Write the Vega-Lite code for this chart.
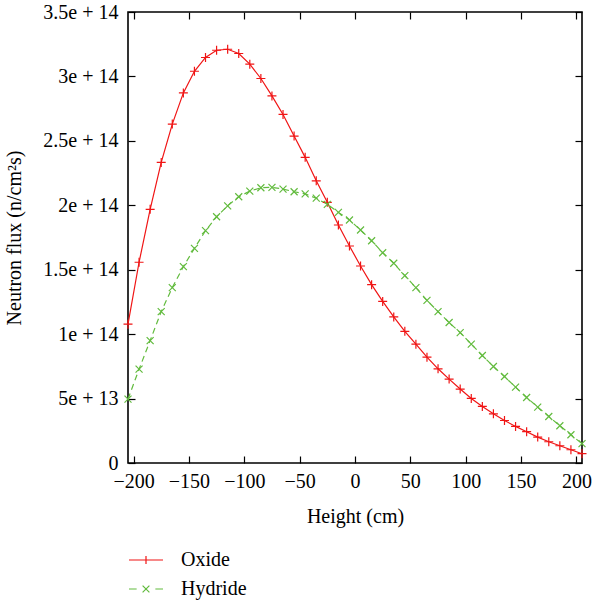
{
  "$schema": "https://vega.github.io/schema/vega-lite/v6.json",
  "width": 454,
  "height": 451,
  "autosize": {"type": "none"},
  "padding": {"left": 128, "top": 12, "right": 10, "bottom": 143},
  "background": "white",
  "config": {
    "view": {"stroke": "black", "strokeWidth": 1.6},
    "font": "Liberation Serif",
    "axis": {
      "labelFont": "Liberation Serif",
      "titleFont": "Liberation Serif",
      "labelFontSize": 20,
      "titleFontSize": 20,
      "titleFontWeight": "normal",
      "labelColor": "black",
      "titleColor": "black",
      "tickColor": "black",
      "tickWidth": 1.2,
      "tickSize": -7,
      "domain": false,
      "grid": false
    },
    "legend": {
      "labelFont": "Liberation Serif",
      "labelFontSize": 20,
      "labelColor": "black"
    }
  },
  "data": {
    "values": [
      {"h": -205, "series": "Oxide", "flux": 1.077e14},
      {"h": -195, "series": "Oxide", "flux": 1.558e14},
      {"h": -185, "series": "Oxide", "flux": 1.969e14},
      {"h": -175, "series": "Oxide", "flux": 2.333e14},
      {"h": -165, "series": "Oxide", "flux": 2.630e14},
      {"h": -155, "series": "Oxide", "flux": 2.872e14},
      {"h": -145, "series": "Oxide", "flux": 3.040e14},
      {"h": -135, "series": "Oxide", "flux": 3.147e14},
      {"h": -125, "series": "Oxide", "flux": 3.203e14},
      {"h": -115, "series": "Oxide", "flux": 3.211e14},
      {"h": -105, "series": "Oxide", "flux": 3.178e14},
      {"h": -95, "series": "Oxide", "flux": 3.095e14},
      {"h": -85, "series": "Oxide", "flux": 2.984e14},
      {"h": -75, "series": "Oxide", "flux": 2.849e14},
      {"h": -65, "series": "Oxide", "flux": 2.705e14},
      {"h": -55, "series": "Oxide", "flux": 2.537e14},
      {"h": -45, "series": "Oxide", "flux": 2.372e14},
      {"h": -35, "series": "Oxide", "flux": 2.190e14},
      {"h": -25, "series": "Oxide", "flux": 2.023e14},
      {"h": -15, "series": "Oxide", "flux": 1.847e14},
      {"h": -5, "series": "Oxide", "flux": 1.684e14},
      {"h": 5, "series": "Oxide", "flux": 1.529e14},
      {"h": 15, "series": "Oxide", "flux": 1.384e14},
      {"h": 25, "series": "Oxide", "flux": 1.254e14},
      {"h": 35, "series": "Oxide", "flux": 1.134e14},
      {"h": 45, "series": "Oxide", "flux": 1.022e14},
      {"h": 55, "series": "Oxide", "flux": 0.922e14},
      {"h": 65, "series": "Oxide", "flux": 0.821e14},
      {"h": 75, "series": "Oxide", "flux": 0.731e14},
      {"h": 85, "series": "Oxide", "flux": 0.651e14},
      {"h": 95, "series": "Oxide", "flux": 0.574e14},
      {"h": 105, "series": "Oxide", "flux": 0.501e14},
      {"h": 115, "series": "Oxide", "flux": 0.439e14},
      {"h": 125, "series": "Oxide", "flux": 0.382e14},
      {"h": 135, "series": "Oxide", "flux": 0.330e14},
      {"h": 145, "series": "Oxide", "flux": 0.284e14},
      {"h": 155, "series": "Oxide", "flux": 0.243e14},
      {"h": 165, "series": "Oxide", "flux": 0.201e14},
      {"h": 175, "series": "Oxide", "flux": 0.165e14},
      {"h": 185, "series": "Oxide", "flux": 0.134e14},
      {"h": 195, "series": "Oxide", "flux": 0.103e14},
      {"h": 205, "series": "Oxide", "flux": 0.072e14},
      {"h": -205, "series": "Hydride", "flux": 0.496e14},
      {"h": -195, "series": "Hydride", "flux": 0.728e14},
      {"h": -185, "series": "Hydride", "flux": 0.950e14},
      {"h": -175, "series": "Hydride", "flux": 1.175e14},
      {"h": -165, "series": "Hydride", "flux": 1.361e14},
      {"h": -155, "series": "Hydride", "flux": 1.524e14},
      {"h": -145, "series": "Hydride", "flux": 1.666e14},
      {"h": -135, "series": "Hydride", "flux": 1.803e14},
      {"h": -125, "series": "Hydride", "flux": 1.911e14},
      {"h": -115, "series": "Hydride", "flux": 1.996e14},
      {"h": -105, "series": "Hydride", "flux": 2.066e14},
      {"h": -95, "series": "Hydride", "flux": 2.110e14},
      {"h": -85, "series": "Hydride", "flux": 2.136e14},
      {"h": -75, "series": "Hydride", "flux": 2.139e14},
      {"h": -65, "series": "Hydride", "flux": 2.126e14},
      {"h": -55, "series": "Hydride", "flux": 2.105e14},
      {"h": -45, "series": "Hydride", "flux": 2.088e14},
      {"h": -35, "series": "Hydride", "flux": 2.055e14},
      {"h": -25, "series": "Hydride", "flux": 2.007e14},
      {"h": -15, "series": "Hydride", "flux": 1.945e14},
      {"h": -5, "series": "Hydride", "flux": 1.886e14},
      {"h": 5, "series": "Hydride", "flux": 1.808e14},
      {"h": 15, "series": "Hydride", "flux": 1.725e14},
      {"h": 25, "series": "Hydride", "flux": 1.632e14},
      {"h": 35, "series": "Hydride", "flux": 1.550e14},
      {"h": 45, "series": "Hydride", "flux": 1.454e14},
      {"h": 55, "series": "Hydride", "flux": 1.361e14},
      {"h": 65, "series": "Hydride", "flux": 1.262e14},
      {"h": 75, "series": "Hydride", "flux": 1.175e14},
      {"h": 85, "series": "Hydride", "flux": 1.090e14},
      {"h": 95, "series": "Hydride", "flux": 1.012e14},
      {"h": 105, "series": "Hydride", "flux": 0.922e14},
      {"h": 115, "series": "Hydride", "flux": 0.834e14},
      {"h": 125, "series": "Hydride", "flux": 0.749e14},
      {"h": 135, "series": "Hydride", "flux": 0.671e14},
      {"h": 145, "series": "Hydride", "flux": 0.589e14},
      {"h": 155, "series": "Hydride", "flux": 0.508e14},
      {"h": 165, "series": "Hydride", "flux": 0.434e14},
      {"h": 175, "series": "Hydride", "flux": 0.361e14},
      {"h": 185, "series": "Hydride", "flux": 0.289e14},
      {"h": 195, "series": "Hydride", "flux": 0.219e14},
      {"h": 205, "series": "Hydride", "flux": 0.150e14}
    ]
  },
  "layer": [
    {
      "mark": {"type": "line", "strokeWidth": 1.2},
      "transform": [{"filter": "datum.series == 'Oxide'"}],
      "encoding": {
        "x": {
          "field": "h", "type": "quantitative",
          "scale": {"domain": [-205, 205], "nice": false, "zero": false},
          "axis": {
            "orient": "bottom",
            "values": [-200, -150, -100, -50, 0, 50, 100, 150, 200],
            "title": "Height (cm)",
            "labelPadding": 15,
            "titlePadding": 15
          }
        },
        "y": {
          "field": "flux", "type": "quantitative",
          "scale": {"domain": [0, 3.5e14], "nice": false},
          "axis": {
            "orient": "left",
            "values": [0, 5e13, 1e14, 1.5e14, 2e14, 2.5e14, 3e14, 3.5e14],
            "labelExpr": "datum.value == 0 ? '0' : (datum.value < 1e14 ? (datum.value / 1e13) + 'e + 13' : (datum.value / 1e14) + 'e + 14')",
            "title": "Neutron flux (n/cm²s)",
            "labelPadding": 17,
            "titlePadding": 18
          }
        },
        "color": {
          "field": "series", "type": "nominal",
          "scale": {"domain": ["Oxide", "Hydride"], "range": ["#f01515", "#62bb3e"]},
          "legend": {
            "title": null,
            "orient": "none",
            "legendX": 0,
            "legendY": 530,
            "symbolSize": 1156,
            "symbolStrokeWidth": 1.2,
            "symbolType": "stroke",
            "labelOffset": 17,
            "rowPadding": 1,
            "encode": {
              "symbols": {
                "update": {
                  "shape": {"signal": "datum.value == 'Oxide' ? 'M-1,0H1M0,-0.24V0.24' : 'M-1,0H-0.55M0.55,0H1M-0.2,-0.2L0.2,0.2M-0.2,0.2L0.2,-0.2'"}
                }
              }
            }
          }
        }
      }
    },
    {
      "mark": {"type": "line", "strokeWidth": 1.2, "strokeDash": [6, 4]},
      "transform": [{"filter": "datum.series == 'Hydride'"}],
      "encoding": {
        "x": {"field": "h", "type": "quantitative", "axis": null},
        "y": {"field": "flux", "type": "quantitative", "axis": null},
        "color": {"field": "series", "type": "nominal", "legend": null}
      }
    },
    {
      "mark": {"type": "point", "filled": false, "strokeWidth": 1.2, "opacity": 1, "shape": "M-1,0H1M0,-1V1", "size": 81},
      "transform": [{"filter": "datum.series == 'Oxide'"}],
      "encoding": {
        "x": {
          "field": "h", "type": "quantitative",
          "axis": {
            "orient": "top",
            "values": [-200, -150, -100, -50, 0, 50, 100, 150, 200],
            "labels": false,
            "title": null
          }
        },
        "y": {
          "field": "flux", "type": "quantitative",
          "axis": {
            "orient": "right",
            "values": [0, 5e13, 1e14, 1.5e14, 2e14, 2.5e14, 3e14, 3.5e14],
            "labels": false,
            "title": null
          }
        },
        "color": {"field": "series", "type": "nominal", "legend": null}
      }
    },
    {
      "mark": {"type": "point", "filled": false, "strokeWidth": 1.2, "opacity": 1, "shape": "M-1,-1L1,1M-1,1L1,-1", "size": 49},
      "transform": [{"filter": "datum.series == 'Hydride'"}],
      "encoding": {
        "x": {"field": "h", "type": "quantitative", "axis": null},
        "y": {"field": "flux", "type": "quantitative", "axis": null},
        "color": {"field": "series", "type": "nominal", "legend": null}
      }
    }
  ],
  "resolve": {"axis": {"x": "independent", "y": "independent"}}
}
